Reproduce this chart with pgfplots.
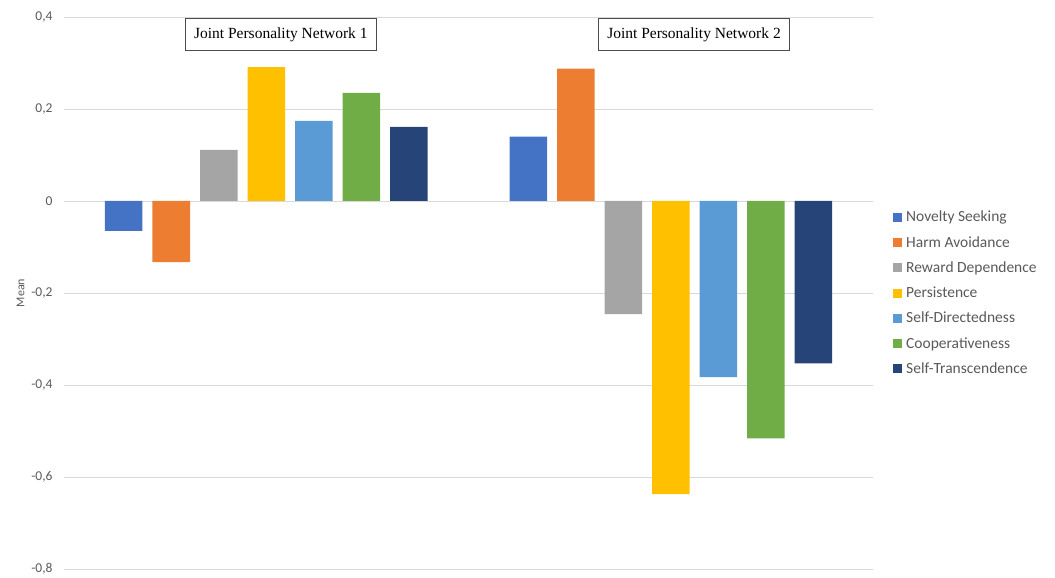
\documentclass[border=0pt]{standalone}
\usepackage{pgfplots}
\pgfplotsset{compat=1.18}
\usepackage{fontspec}
\setmainfont{Carlito}
\newfontfamily\timesfont{Liberation Serif}
\definecolor{cA}{HTML}{4472C4}
\definecolor{cB}{HTML}{ED7D31}
\definecolor{cC}{HTML}{A5A5A5}
\definecolor{cD}{HTML}{FFC000}
\definecolor{cE}{HTML}{5B9BD5}
\definecolor{cF}{HTML}{70AD47}
\definecolor{cG}{HTML}{264478}
\definecolor{gridc}{HTML}{D9D9D9}
\definecolor{txt}{HTML}{595959}
\begin{document}
\begin{tikzpicture}
\begin{axis}[
  scale only axis, width=809pt, height=552pt,
  ybar=10pt, bar width=37.5pt,
  xmin=-0.5, xmax=1.5, ymin=-0.8, ymax=0.4,
  xtick=\empty,
  ytick={-0.8,-0.6,-0.4,-0.2,0,0.2,0.4},
  yticklabels={{-0,8},{-0,6},{-0,4},{-0,2},0,{0,2},{0,4}},
  yticklabel style={font=\fontsize{13.5}{15}\selectfont, text=txt},
  yticklabel shift=8pt,
  ymajorgrids, grid style={draw=gridc, line width=0.8pt},
  axis line style={draw=none}, major tick length=0pt,
  ylabel={Mean}, ylabel style={font=\fontsize{12}{14}\selectfont, text=txt},
  legend style={at={(1.021,0.5)}, anchor=west, draw=none, fill=none,
    font=\fontsize{15.5}{17}\selectfont, text=txt, row sep=9pt,
    nodes={inner xsep=4pt}},
  legend cell align=left,
  legend image code/.code={\fill[#1] (0pt,-4.5pt) rectangle (9pt,4.5pt);},
  every axis plot/.append style={draw=none},
]
\addplot[fill=cA] coordinates {(0,-0.065) (1,0.140)};
\addplot[fill=cB] coordinates {(0,-0.133) (1,0.288)};
\addplot[fill=cC] coordinates {(0,0.111) (1,-0.246)};
\addplot[fill=cD] coordinates {(0,0.291) (1,-0.637)};
\addplot[fill=cE] coordinates {(0,0.174) (1,-0.383)};
\addplot[fill=cF] coordinates {(0,0.235) (1,-0.516)};
\addplot[fill=cG] coordinates {(0,0.161) (1,-0.353)};
\legend{Novelty Seeking, Harm Avoidance, Reward Dependence, Persistence, Self-Directedness, Cooperativeness, Self-Transcendence}
\node[draw=black!70, line width=0.8pt, fill=white, inner xsep=9pt, inner ysep=8.5pt, font=\timesfont\fontsize{15.5}{17}\selectfont] at (axis cs:0.036,0.3622) {Joint Personality Network 1};
\node[draw=black!70, line width=0.8pt, fill=white, inner xsep=9pt, inner ysep=8.5pt, font=\timesfont\fontsize{15.5}{17}\selectfont] at (axis cs:1.0575,0.3622) {Joint Personality Network 2};
\end{axis}
\path[use as bounding box] ([xshift=-64pt,yshift=-6pt]current axis.south west) rectangle ([xshift=182pt,yshift=17pt]current axis.north east);
\end{tikzpicture}
\end{document}
